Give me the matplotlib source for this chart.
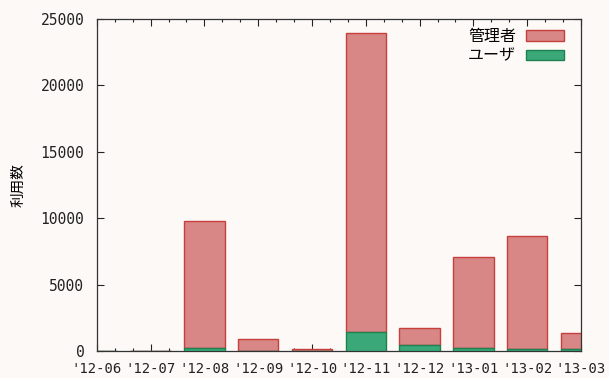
import matplotlib
matplotlib.use("Agg")
import matplotlib.pyplot as plt
from matplotlib.ticker import MultipleLocator
import numpy as np

months = ["'12-06", "'12-07", "'12-08", "'12-09", "'12-10",
          "'12-11", "'12-12", "'13-01", "'13-02", "'13-03"]
users = [0, 0, 250, 0, 0, 1450, 450, 225, 200, 125]
admins = [0, 0, 9550, 900, 200, 22450, 1280, 6875, 8450, 1275]

bg = "#fcf9f7"
fig = plt.figure(figsize=(6.09, 3.78), dpi=100, facecolor=bg)
ax = fig.add_axes([0.159, 0.071, 0.795, 0.880], facecolor=bg)

x = np.arange(len(months))
w = 0.75
ax.bar(x, admins, w, bottom=users, color="#d88686", edgecolor="#c8403c",
       linewidth=1.0, label="管理者", zorder=2)
ax.bar(x, users, w, color="#3aa878", edgecolor="#1f8050",
       linewidth=1.0, label="ユーザ", zorder=3)

ax.set_xlim(0, 8.98)
ax.set_ylim(0, 25000)
ax.set_xticks(x)
ax.set_xticklabels(months, family="DejaVu Sans Mono", fontsize=10)
ax.xaxis.set_minor_locator(MultipleLocator(1 / 3))
ax.set_yticks(np.arange(0, 25001, 5000))
for t in ax.get_yticklabels():
    t.set_family("DejaVu Sans Mono")
    t.set_fontsize(10.5)

ax.tick_params(axis="both", which="both", direction="in",
               top=True, right=True, colors="#222222", width=0.8)
ax.tick_params(axis="x", which="major", length=5, pad=8)
ax.tick_params(axis="x", which="minor", length=2.5)
ax.tick_params(axis="y", which="major", length=5, pad=9)
for s in ax.spines.values():
    s.set_color("#333333")
    s.set_linewidth(0.9)

ax.set_ylabel("利用数", family=["Noto Sans CJK JP", "DejaVu Sans"],
              fontsize=10.5, labelpad=11)

leg = ax.legend(loc="upper right", frameon=False, markerfirst=False,
                prop={"family": ["Noto Sans CJK JP", "DejaVu Sans"], "size": 11.5},
                handlelength=2.4, handleheight=0.6, labelspacing=0.15,
                borderaxespad=0.2, handletextpad=0.6, borderpad=0.4)
leg.set_bbox_to_anchor((0.985, 1.0), transform=ax.transAxes)

fig.savefig("out.png", dpi=100, facecolor=bg)
